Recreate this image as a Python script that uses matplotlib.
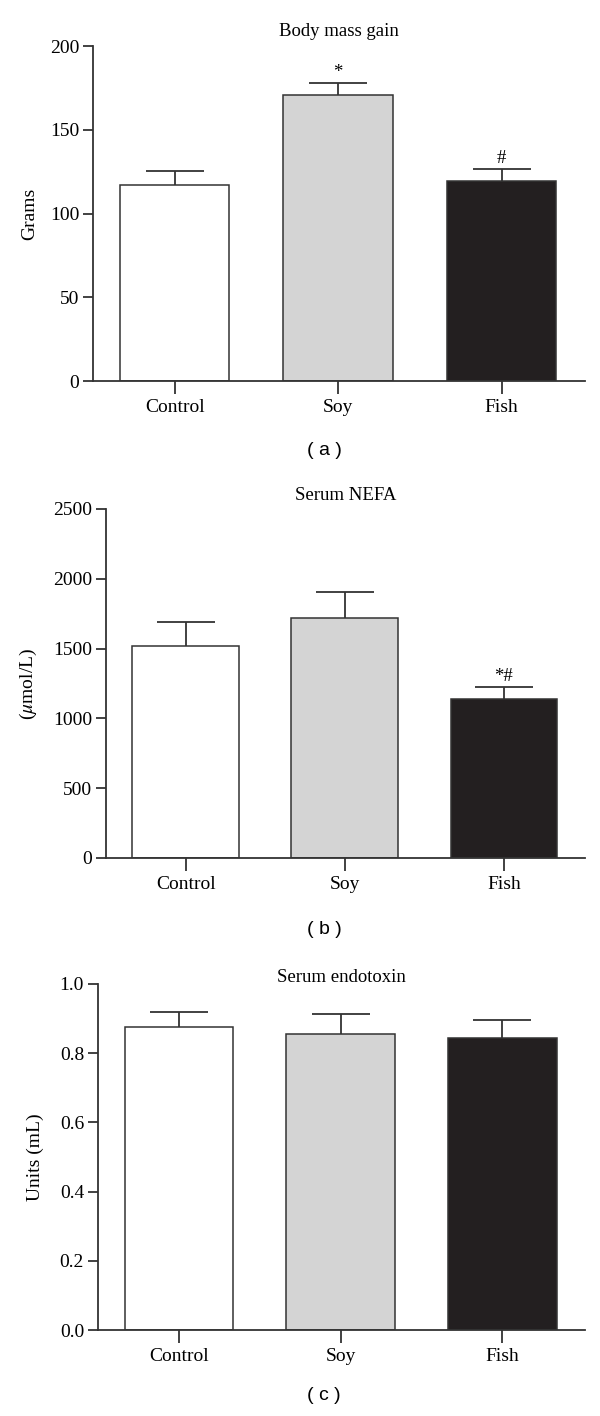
import matplotlib.pyplot as plt
import numpy as np

groups = ["Control", "Soy", "Fish"]
colors = ["#ffffff", "#d4d4d4", "#231f20"]

# (a) body mass gain
mass_mean = [117.3, 170.6, 119.3]
mass_err = [8.3, 7.1, 7.1]
mass_marks = ["", "*", "#"]

# (b) serum NEFA
nefa_mean = [1521, 1722, 1141]
nefa_err = [167, 183, 84]
nefa_marks = ["", "", "*#"]

# (c) serum endotoxin
endo_mean = [0.877, 0.856, 0.845]
endo_err = [0.041, 0.056, 0.052]
endo_marks = ["", "", ""]

plt.rcParams['font.family'] = ['Liberation Serif', 'DejaVu Serif']
plt.rcParams['mathtext.fontset'] = 'stix'

fig = plt.figure(figsize=(6, 14.16), dpi=100)
H = 1416.0

panels = [
    # rect, means, errs, marks, title, title_y(px), ylabel, ylabel_x, ylim, yticks, fmt, letter, letter_y(px)
    ([0.155, 0.7309, 0.82, 0.2366], mass_mean, mass_err, mass_marks,
     "Body mass gain", 31, "Grams", -0.112, (0, 200), [0, 50, 100, 150, 200], "{:.0f}", "( a )", 450),
    ([0.1767, 0.3941, 0.7983, 0.2465], nefa_mean, nefa_err, nefa_marks,
     "Serum NEFA", 495, r"($\mu$mol/L)", -0.14, (0, 2500), [0, 500, 1000, 1500, 2000, 2500], "{:.0f}", "( b )", 930),
    ([0.1633, 0.0607, 0.8117, 0.2444], endo_mean, endo_err, endo_marks,
     "Serum endotoxin", 978, "Units (mL)", -0.111, (0, 1.0), [0, 0.2, 0.4, 0.6, 0.8, 1.0], "{:.1f}", "( c )", 1395),
]

x = np.arange(len(groups))
for (rect, means, errs, marks, title, title_y, ylabel, ylabel_x,
     ylim, yticks, fmt, letter, letter_y) in panels:
    ax = fig.add_axes(rect)
    ax.bar(x, means, width=0.67, color=colors, edgecolor="#333333", linewidth=1.1, zorder=2)
    eb = ax.errorbar(x, means, yerr=[np.zeros(len(errs)), errs], fmt="none",
                     ecolor="#333333", elinewidth=1.3, capsize=21, capthick=1.3, zorder=1)
    eb[1][0].set_visible(False)  # lower caps sit on the bar top
    span = ylim[1] - ylim[0]
    for xi, m, e, s in zip(x, means, errs, marks):
        if s:
            ax.text(xi, m + e + 0.006 * span, s, ha="center", va="bottom", fontsize=13.5)
    ax.set_xlim(-0.5, 2.51)
    ax.set_ylim(*ylim)
    ax.set_yticks(yticks)
    ax.set_yticklabels([fmt.format(t) for t in yticks])
    ax.set_xticks(x)
    ax.set_xticklabels(groups)
    ax.spines["top"].set_visible(False)
    ax.spines["right"].set_visible(False)
    for sp in ("left", "bottom"):
        ax.spines[sp].set_linewidth(1.3)
        ax.spines[sp].set_color("#333333")
    ax.tick_params(axis="y", length=7, width=1.3, color="#333333", labelsize=14, pad=3)
    ax.tick_params(axis="x", length=9, width=1.3, color="#333333", labelsize=14, pad=4)
    ax.set_ylabel(ylabel, fontsize=14)
    ax.yaxis.set_label_coords(ylabel_x, 0.5)
    cx = rect[0] + rect[2] / 2
    fig.text(cx, 1 - title_y / H, title, ha="center", va="center", fontsize=13.5)
    fig.text(0.54, 1 - letter_y / H, letter, ha="center", va="center", fontsize=14,
             family=["Liberation Sans", "DejaVu Sans"])

plt.savefig("out.png", dpi=100)
